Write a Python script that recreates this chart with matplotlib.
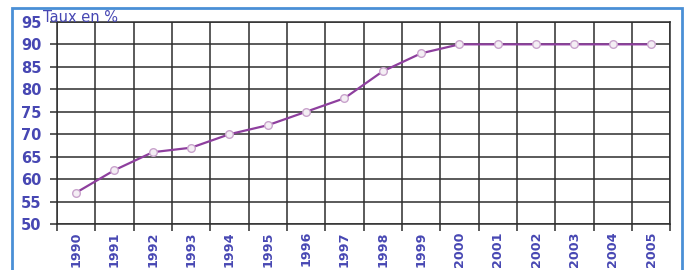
import numpy as np
import matplotlib
matplotlib.use("Agg")
import matplotlib.pyplot as plt
from matplotlib.patches import Rectangle

# data
years = ['1990', '1991', '1992', '1993', '1994', '1995', '1996', '1997',
         '1998', '1999', '2000', '2001', '2002', '2003', '2004', '2005']
taux = [57, 62, 66, 67, 70, 72, 75, 78, 84, 88, 90, 90, 90, 90, 90, 90]
yticks = [50, 55, 60, 65, 70, 75, 80, 85, 90, 95]

label_col = '#4747b3'
line_col = '#8e3f9e'
grid_col = '#2e2e2e'

fig = plt.figure(figsize=(6.86, 2.70), dpi=100)
ax = fig.add_axes([0.083, 0.170, 0.894, 0.749])

x = np.arange(len(years))
ax.plot(x, taux, '-', color=line_col, lw=1.6, marker='o', ms=5.5,
        mfc='#f4eef4', mec='#c9a3cc', mew=1.0, zorder=3)

ax.set_xlim(-0.5, len(years) - 0.5)
ax.set_ylim(50, 95)
ax.set_yticks(yticks)
ax.set_yticklabels([str(v) for v in yticks], fontsize=10.5, fontweight='bold',
                   color=label_col)
ax.set_xticks(x)
ax.set_xticklabels(years, rotation=90, fontsize=9.2, fontweight='bold',
                   color=label_col)

# grid lines sit on the cell edges
ax.set_xticks(np.arange(-0.5, len(years)), minor=True)
ax.grid(True, which='minor', axis='x', color=grid_col, lw=1.1)
ax.grid(True, which='major', axis='y', color=grid_col, lw=1.1)
ax.tick_params(axis='x', which='major', length=0, pad=5)
ax.tick_params(axis='x', which='minor', length=5, color=grid_col, width=1.1)
ax.tick_params(axis='y', length=5, color=grid_col, width=1.1, pad=6)
for s in ax.spines.values():
    s.set_color(grid_col)
    s.set_linewidth(1.1)

fig.text(0.063, 0.92, 'Taux en %', fontsize=10.5, color=label_col)

# blue frame around the figure
fig.patches.append(Rectangle((12 / 686, -0.05), 670 / 686, 1.02,
                             transform=fig.transFigure, fill=False,
                             edgecolor='#4a8fd6', lw=2))

fig.savefig('out.png', dpi=100)
